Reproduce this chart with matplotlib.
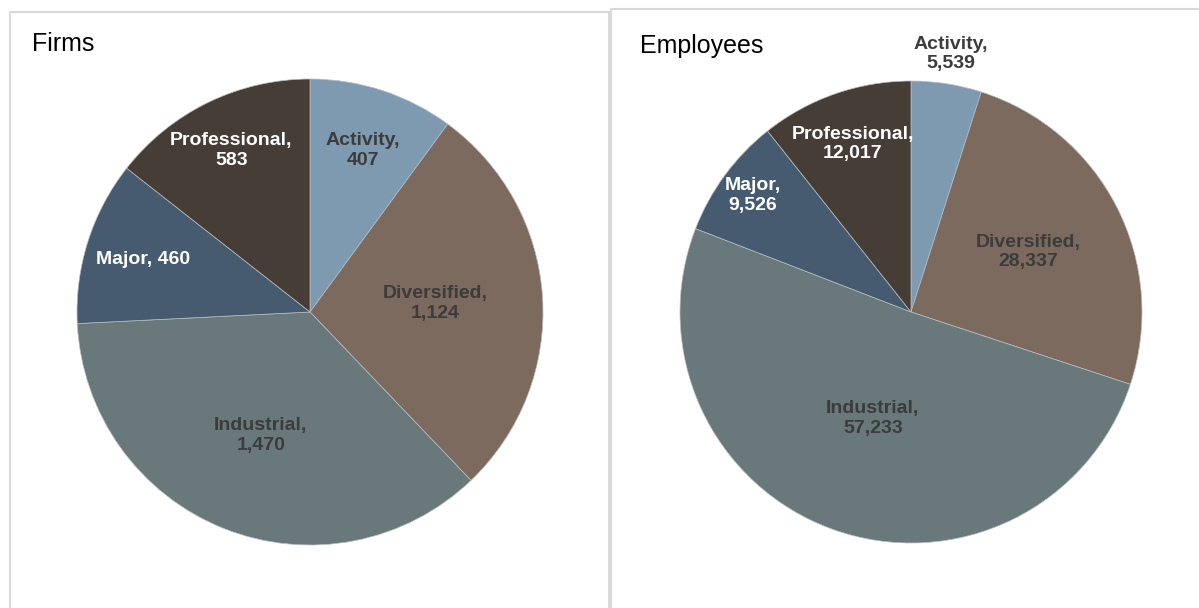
import numpy as np
import matplotlib.pyplot as plt
from matplotlib.lines import Line2D

# Firms and employees by category
categories = ["Activity", "Diversified", "Industrial", "Major", "Professional"]
firms = [407, 1124, 1470, 460, 583]
employees = [5539, 28337, 57233, 9526, 12017]

colors = ["#7d9ab1", "#7d6a5e", "#68787b", "#475b70", "#473d37"]
text_colors = ["#3c3c3c", "#3c3c3c", "#3c3c3c", "white", "white"]

W, H = 1199, 608
fig = plt.figure(figsize=(W / 100, H / 100), dpi=100)
fig.patch.set_facecolor("white")

font = ["Liberation Sans", "DejaVu Sans"]


def px_axes(cx, cy, r):
    # square axes centred on a pixel position (y measured from the top)
    return fig.add_axes([(cx - r) / W, (H - cy - r) / H, 2 * r / W, 2 * r / H])


def draw_pie(ax, values, label_r, one_line):
    wedges, _ = ax.pie(values, colors=colors, startangle=90, counterclock=False,
                       radius=1, wedgeprops=dict(edgecolor="#b8bebe", linewidth=0.5))
    ax.set_xlim(-1, 1)
    ax.set_ylim(-1, 1)
    for i, w in enumerate(wedges):
        mid = np.deg2rad((w.theta1 + w.theta2) / 2)
        x = label_r[i] * np.cos(mid)
        y = label_r[i] * np.sin(mid)
        sep = " " if one_line[i] else "\n"
        ax.text(x, y, f"{categories[i]},{sep}{values[i]:,}", ha="center", va="center",
                color=text_colors[i], fontsize=14, fontweight="bold",
                family=font, linespacing=1.2)


# panel frames: left, top and right edges only
def frame(x0, y0, x1):
    xs = [x0 / W, x0 / W, x1 / W, x1 / W]
    ys = [0, 1 - y0 / H, 1 - y0 / H, 0]
    fig.add_artist(Line2D(xs, ys, transform=fig.transFigure,
                          color="#d9d9d9", linewidth=1.5))


frame(10, 12, 609)
frame(611, 9, 1205)

ax1 = px_axes(310, 312, 233)
draw_pie(ax1, firms, [0.73, 0.54, 0.57, 0.75, 0.77], [False, False, False, True, False])
fig.text(32 / W, 1 - 44 / H, "Firms", fontsize=18, family=font, va="center", ha="left")

ax2 = px_axes(911, 312, 231)
draw_pie(ax2, employees, [1.13, 0.57, 0.49, 0.85, 0.77], [False] * 5)
fig.text(640 / W, 1 - 46 / H, "Employees", fontsize=18, family=font, va="center", ha="left")

fig.savefig("out.png", dpi=100)
